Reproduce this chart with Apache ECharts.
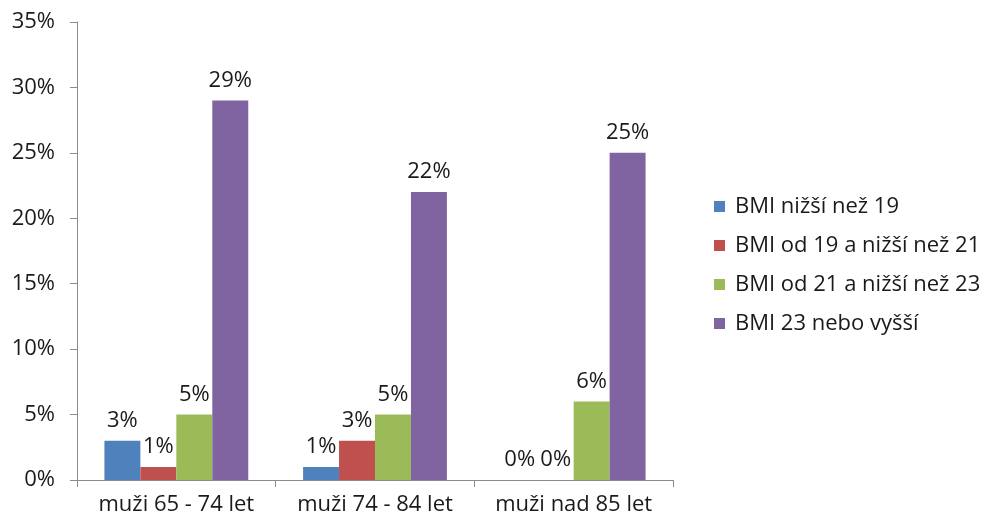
<!DOCTYPE html>
<html>
<head>
<meta charset="utf-8">
<script src="https://cdn.jsdelivr.net/npm/echarts@6/dist/echarts.min.js"></script>
<style>
  html, body { margin: 0; padding: 0; background: #fff; }
  #chart { width: 983px; height: 518px; }
</style>
</head>
<body>
<div id="chart"></div>
<script>
// Age groups on the x axis
const categories = ['muži 65 - 74 let', 'muži 74 - 84 let', 'muži nad 85 let'];
// BMI band names (legend order)
const seriesNames = ['BMI nižší než 19', 'BMI od 19 a nižší než 21', 'BMI od 21 a nižší než 23', 'BMI 23 nebo vyšší'];
// Percentages per BMI band, one value per age group
const bmiUnder19 = [3, 1, 0];
const bmi19to21 = [1, 3, 0];
const bmi21to23 = [5, 5, 6];
const bmi23plus = [29, 22, 25];
const seriesColors = ['#4f81bd', '#c0504d', '#9bbb59', '#8064a2'];

const FONT = '"Open Sans", Lato, sans-serif';
const FS = 22;
const values = [bmiUnder19, bmi19to21, bmi21to23, bmi23plus];

const chart = echarts.init(document.getElementById('chart'));
chart.setOption({
  animation: false,
  backgroundColor: '#fff',
  textStyle: { fontFamily: FONT },
  grid: { left: 77, right: 310, top: 22, bottom: 38, containLabel: false },
  legend: {
    orient: 'vertical',
    left: 709,
    top: 188,
    itemWidth: 11,
    itemHeight: 11,
    itemGap: 12,
    icon: 'rect',
    data: seriesNames,
    textStyle: { fontSize: FS, color: '#1a1a1a', fontFamily: FONT, lineHeight: 27, padding: [0, 0, 0, 5] }
  },
  xAxis: {
    type: 'category',
    data: categories,
    boundaryGap: true,
    axisLine: { lineStyle: { color: '#8c8c8c', width: 1 } },
    axisTick: { show: true, length: 7, inside: false, lineStyle: { color: '#8c8c8c' } },
    axisLabel: { interval: 0, fontSize: FS, color: '#1a1a1a', margin: 14, fontFamily: FONT },
    splitLine: { show: false }
  },
  yAxis: {
    type: 'value',
    min: 0,
    max: 35,
    interval: 5,
    axisLine: { show: true, lineStyle: { color: '#8c8c8c', width: 1 } },
    axisTick: { show: true, length: 7, lineStyle: { color: '#8c8c8c' } },
    axisLabel: { fontSize: FS, color: '#1a1a1a', margin: 22, formatter: '{value}%', fontFamily: FONT },
    splitLine: { show: false }
  },
  series: seriesNames.map((name, i) => ({
    name: name,
    type: 'bar',
    data: values[i],
    barGap: '0%',
    barCategoryGap: '27.6%',
    itemStyle: { color: seriesColors[i] },
    label: {
      show: true,
      position: 'top',
      distance: 9,
      formatter: '{c}%',
      fontSize: FS,
      color: '#1a1a1a',
      fontFamily: FONT
    }
  }))
});
</script>
</body>
</html>
